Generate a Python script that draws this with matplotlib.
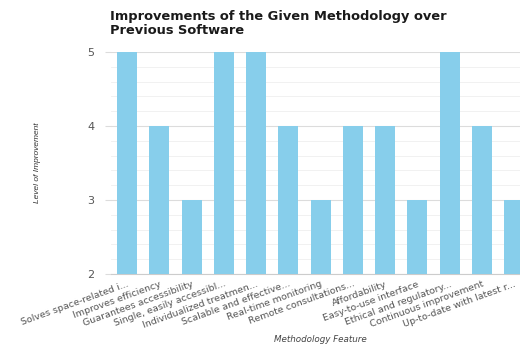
import matplotlib.pyplot as plt
from matplotlib.ticker import MultipleLocator

# data
features = ['Solves space-related i...', 'Improves efficiency', 'Guarantees accessibility',
            'Single, easily accessibl...', 'Individualized treatmen...', 'Scalable and effective...',
            'Real-time monitoring', 'Remote consultations...', 'Affordability',
            'Easy-to-use interface', 'Ethical and regulatory...', 'Continuous improvement',
            'Up-to-date with latest r...']
levels = [5, 4, 3, 5, 5, 4, 3, 4, 4, 3, 5, 4, 3]

plt.rcParams['font.family'] = ['DejaVu Sans']

fig = plt.figure(figsize=(5.2, 3.45), dpi=100)
ax = fig.add_axes([0.2135, 0.206, 0.806, 0.643])

x = range(len(features))
ax.bar(x, levels, width=0.62, color='#87CEEB', zorder=3)
ax.set_xlim(-0.5, len(features) - 0.5)
ax.set_ylim(2, 5)

ax.yaxis.set_major_locator(MultipleLocator(1))
ax.yaxis.set_minor_locator(MultipleLocator(0.2))
ax.grid(axis='y', which='major', color='#dcdcdc', linewidth=0.8, zorder=0)
ax.grid(axis='y', which='minor', color='#efefef', linewidth=0.6, zorder=0)

for s in ['top', 'right', 'left']:
    ax.spines[s].set_visible(False)
ax.spines['bottom'].set_color('#cccccc')

ax.set_xticks(list(x))
ax.set_xticklabels(features, rotation=20, ha='right', rotation_mode='anchor',
                   fontsize=6.8, color='#555555')
ax.tick_params(axis='x', length=0, pad=4)
ax.tick_params(axis='y', which='major', length=4, color='#dcdcdc', labelsize=8,
               labelcolor='#555555', pad=8)
ax.tick_params(axis='y', which='minor', length=0)

ax.set_ylabel('Level of Improvement', fontsize=6, style='italic', color='#333333',
              labelpad=33, family='Liberation Sans')
ax.set_xlabel('Methodology Feature', fontsize=6.3, style='italic', color='#444444', labelpad=4)

fig.text(0.212, 0.972, 'Improvements of the Given Methodology over\nPrevious Software',
         fontsize=9.4, fontweight='bold', color='#1a1a1a', va='top', ha='left', linespacing=1.12)

fig.savefig('out.png', dpi=100)
